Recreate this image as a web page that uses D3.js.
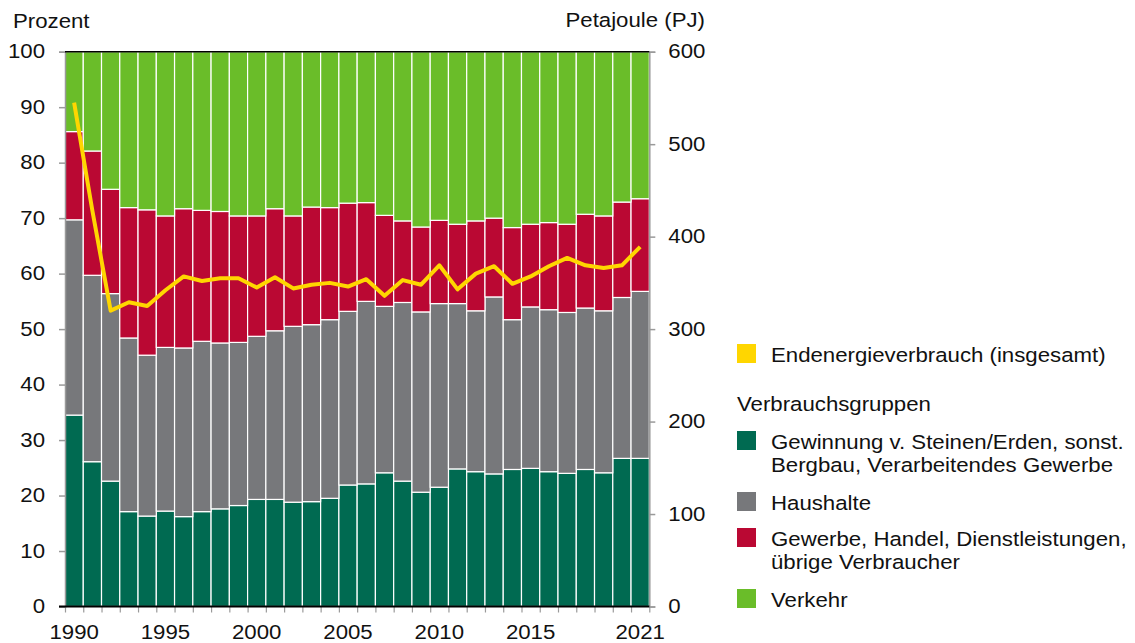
<html><head>
<meta charset="utf-8">
<script src="https://d3js.org/d3.v7.min.js"></script>
<style>
body { margin: 0; background: #fff; }
svg text { font-family: "Liberation Sans", Arial, sans-serif; font-size: 19.5px; fill: #111; }
</style>
</head>
<body>
<svg id="chart" width="1135" height="643"></svg>
<script>
// data
const years = d3.range(1990, 2022);
// shares in percent (bottom to top)
const industry = [34.5, 26.1, 22.6, 17.1, 16.3, 17.2, 16.2, 17.1, 17.6, 18.2, 19.3, 19.3, 18.8, 18.9, 19.5, 21.9,
                  22.1, 24.1, 22.6, 20.6, 21.5, 24.8, 24.3, 23.9, 24.7, 24.9, 24.3, 24.0, 24.7, 24.1, 26.7, 26.7];
// cumulative top of households
const householdsTop = [69.7, 59.7, 56.4, 48.4, 45.3, 46.7, 46.6, 47.8, 47.5, 47.6, 48.7, 49.7, 50.5, 50.8, 51.7, 53.2,
                       55.0, 54.1, 54.8, 53.1, 54.6, 54.6, 53.3, 55.8, 51.7, 54.0, 53.5, 53.0, 53.8, 53.3, 55.7, 56.8];
// cumulative top of trade/services
const tradeTop = [85.6, 82.1, 75.2, 71.9, 71.5, 70.4, 71.7, 71.4, 71.2, 70.4, 70.4, 71.7, 70.4, 72.0, 71.9, 72.7,
                  72.8, 70.5, 69.5, 68.4, 69.6, 68.9, 69.5, 70.0, 68.3, 68.9, 69.2, 68.9, 70.7, 70.4, 72.9, 73.5];
// total final energy consumption in PJ
const totalPJ = [545, 428, 320, 329, 325, 342, 357, 352, 355, 355, 345, 356, 344, 348, 350, 346,
                 354, 336, 353, 348, 369, 343, 360, 368, 349, 357, 368, 377, 369, 366, 369, 389];
const yearLabels = [1990, 1995, 2000, 2005, 2010, 2015, 2021];

const groups = ["industry", "households", "trade", "traffic"];
const colors = { industry: "#006a51", households: "#77787b", trade: "#ba0833", traffic: "#6abd29", total: "#ffd600" };

const svg = d3.select("#chart");
const plotLeft = 65, plotRight = 649.3, plotTop = 51.7, plotBottom = 606.5;
const sx = 1.14; // the source font is drawn a bit wide

const x = d3.scaleBand().domain(years).range([plotLeft, plotRight]).paddingInner(0);
const xEdge = d3.scaleLinear().domain([1989.5, 2021.5]).range([plotLeft, plotRight]);
const y = d3.scaleLinear().domain([0, 100]).range([plotBottom, plotTop]);
const yPJ = d3.scaleLinear().domain([0, 600]).range([plotBottom, plotTop]);

// text helper: wide text anchored at (tx, ty)
function addText(parent, tx, ty, str, anchor) {
  return parent.append("text")
    .attr("transform", "translate(" + tx + "," + ty + ") scale(" + sx + ",1)")
    .attr("text-anchor", anchor || "start")
    .text(str);
}
// widen axis labels in place
function widen(axisG) {
  axisG.selectAll(".tick text").each(function() {
    const t = d3.select(this);
    const ox = +t.attr("x") || 0;
    t.attr("x", ox / sx).attr("transform", "scale(" + sx + ",1)")
      .attr("font-size", null).attr("font-family", null).attr("fill", "#111");
  });
}

// build stacked rows from the arrays
const rows = years.map((yr, i) => ({
  year: yr,
  industry: industry[i],
  households: householdsTop[i] - industry[i],
  trade: tradeTop[i] - householdsTop[i],
  traffic: 100 - tradeTop[i]
}));
const stack = d3.stack().keys(groups)(rows);

svg.append("g").selectAll("g").data(stack)
  .join("g")
  .attr("fill", d => colors[d.key])
  .selectAll("rect").data(d => d)
  .join("rect")
  .attr("x", d => x(d.data.year))
  .attr("width", x.bandwidth())
  .attr("y", d => y(d[1]))
  .attr("height", d => y(d[0]) - y(d[1]))
  .attr("stroke", "#fff")
  .attr("stroke-width", 1.2);

// axes
const leftAxis = svg.append("g")
  .attr("transform", "translate(" + plotLeft + ",0)")
  .call(d3.axisLeft(y).tickValues(d3.range(0, 101, 10)).tickSize(6).tickPadding(14));
const rightAxis = svg.append("g")
  .attr("transform", "translate(" + plotRight + ",0)")
  .call(d3.axisRight(yPJ).tickValues(d3.range(0, 601, 100)).tickSize(6).tickPadding(13));
[leftAxis, rightAxis].forEach(a => {
  a.select(".domain").attr("stroke", "#9a9a9a").attr("stroke-width", 1.5);
  a.selectAll(".tick line").attr("stroke", "#9a9a9a").attr("stroke-width", 1.5);
  widen(a);
});

const edgeAxis = svg.append("g")
  .attr("transform", "translate(0," + plotBottom + ")")
  .call(d3.axisBottom(xEdge).tickValues(d3.range(1989.5, 2022, 1)).tickSize(6).tickFormat(""));
edgeAxis.select(".domain").remove();
edgeAxis.selectAll(".tick line").attr("stroke", "#9a9a9a").attr("stroke-width", 1.2);

const labelAxis = svg.append("g")
  .attr("transform", "translate(0," + plotBottom + ")")
  .call(d3.axisBottom(x).tickValues(yearLabels).tickSize(0).tickPadding(19));
labelAxis.select(".domain").remove();
widen(labelAxis);

// black frame lines top and bottom
svg.append("line").attr("x1", plotLeft - 6).attr("x2", plotRight).attr("y1", plotBottom).attr("y2", plotBottom)
  .attr("stroke", "#000").attr("stroke-width", 2);
svg.append("line").attr("x1", plotLeft).attr("x2", plotRight).attr("y1", plotTop).attr("y2", plotTop)
  .attr("stroke", "#000").attr("stroke-width", 1.5);

// total line
const line = d3.line()
  .x((d, i) => x(years[i]) + x.bandwidth() / 2)
  .y(d => yPJ(d));
svg.append("path").datum(totalPJ)
  .attr("d", line)
  .attr("fill", "none")
  .attr("stroke", colors.total)
  .attr("stroke-width", 4)
  .attr("stroke-linejoin", "round");

// axis titles
addText(svg, 13, 28, "Prozent");
addText(svg, 705, 27, "Petajoule (PJ)", "end");

// legend
const legend = svg.append("g");
const legItems = [
  { color: colors.total, y: 344, lines: ["Endenergieverbrauch (insgesamt)"] },
  { color: colors.industry, y: 431, lines: ["Gewinnung v. Steinen/Erden, sonst.", "Bergbau, Verarbeitendes Gewerbe"] },
  { color: colors.households, y: 492, lines: ["Haushalte"] },
  { color: colors.trade, y: 528, lines: ["Gewerbe, Handel, Dienstleistungen,", "übrige Verbraucher"] },
  { color: colors.traffic, y: 589, lines: ["Verkehr"] }
];
legItems.forEach(it => {
  legend.append("rect").attr("x", 737).attr("y", it.y).attr("width", 19).attr("height", 19).attr("fill", it.color);
  it.lines.forEach((t, j) => {
    addText(legend, 771, it.y + 17.5 + j * 23.5, t);
  });
});
addText(legend, 737, 410.5, "Verbrauchsgruppen");
</script>
</body>
</html>
